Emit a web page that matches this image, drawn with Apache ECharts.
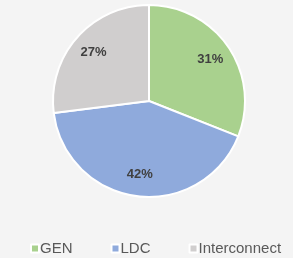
<!DOCTYPE html>
<html lang="en">
<head>
  <meta charset="UTF-8">
  <title>Pie</title>
  <script src="https://cdn.jsdelivr.net/npm/echarts@6/dist/echarts.min.js"></script>
  <style>
    html, body { margin: 0; padding: 0; background: #f4f4f4; }
  </style>
</head>
<body>

<div id="chart" style="width: 293px; height: 258px;"></div>

<script>
  // data
  var categories = ['GEN', 'LDC', 'Interconnect'];
  var shares = [31, 42, 27];
  var colors = ['#a9d18e', '#8faadc', '#d0cece'];

  var myChart = echarts.init(document.getElementById('chart'));

  var pieData = categories.map(function (name, i) {
    return { name: name, value: shares[i], itemStyle: { color: colors[i] } };
  });

  var option = {
    backgroundColor: '#f4f4f4',
    animation: false,
    legend: {
      data: categories,
      left: 25,
      top: 236,
      icon: 'rect',
      itemWidth: 8,
      itemHeight: 8,
      itemGap: 38,
      textStyle: {
        fontFamily: 'Liberation Sans',
        fontSize: 15,
        color: '#595959',
        padding: [0, 0, 0, -4]
      }
    },
    series: [
      {
        type: 'pie',
        center: [149, 101],
        radius: [0, 96],
        startAngle: 90,
        clockwise: true,
        silent: true,
        itemStyle: { borderColor: '#ffffff', borderWidth: 2 },
        label: { show: false },
        labelLine: { show: false },
        data: pieData
      },
      {
        // invisible ring only used to place the percentage labels
        type: 'pie',
        center: [149, 101],
        radius: [46, 96],
        startAngle: 90,
        clockwise: true,
        silent: true,
        legendHoverLink: false,
        itemStyle: { color: 'transparent', borderWidth: 0 },
        label: {
          show: true,
          position: 'inside',
          formatter: '{c}%',
          fontFamily: 'Liberation Sans',
          fontSize: 13,
          fontWeight: 'bold',
          color: '#404040'
        },
        labelLine: { show: false },
        data: categories.map(function (name, i) {
          return { name: name + ' ', value: shares[i] };
        })
      }
    ]
  };

  myChart.setOption(option);
</script>

</body>
</html>
